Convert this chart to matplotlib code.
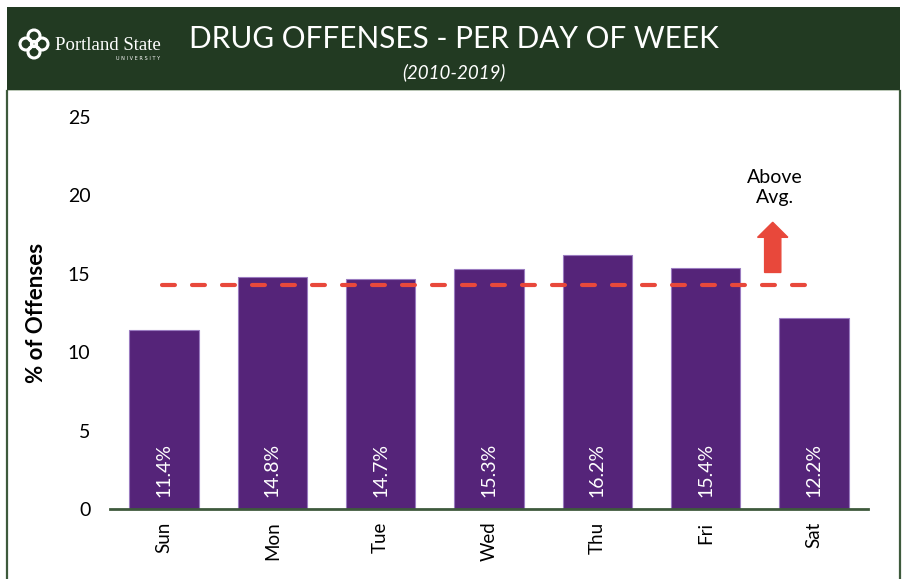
import matplotlib
matplotlib.use("Agg")
import matplotlib.pyplot as plt
from matplotlib.patches import Rectangle, FancyArrow, Circle
import numpy as np

plt.rcParams['font.family'] = ['Lato', 'DejaVu Sans']
plt.rcParams['lines.scale_dashes'] = False

days = ["Sun", "Mon", "Tue", "Wed", "Thu", "Fri", "Sat"]
pct = [11.4, 14.8, 14.7, 15.3, 16.2, 15.4, 12.2]
avg_level = 100 / 7
y_ticks = [0, 5, 10, 15, 20, 25]

title = "DRUG OFFENSES - PER DAY OF WEEK"
subtitle = "(2010-2019)"

W, H = 904, 579
fig = plt.figure(figsize=(W / 100, H / 100), dpi=100)
fig.patch.set_facecolor("white")

def fx(px):
    return px / W

def fy(py):
    return 1 - py / H

green = "#223a22"
frame = "#3e5a3c"

# header band and frame
fig.add_artist(Rectangle((fx(7), fy(90)), fx(900) - fx(7), fy(7) - fy(90),
                         transform=fig.transFigure, facecolor=green, edgecolor="none", zorder=0))
fig.add_artist(Rectangle((fx(7), fy(91)), fx(900) - fx(7), 1.2 / H,
                         transform=fig.transFigure, facecolor="#b9c6b5", edgecolor="none", zorder=1))
for x in (7, 900):
    fig.add_artist(plt.Line2D([fx(x), fx(x)], [fy(91), 0], transform=fig.transFigure,
                              color=frame, lw=1.6, zorder=1))

# logo mark: four interlocking loops (drawn in inches so they stay round)
cx, cy = 34, 44
for dx, dy in [(0, -8), (0, 8), (-8, 0), (8, 0)]:
    fig.add_artist(Circle(((cx + dx) / 100, (H - cy - dy) / 100), 6.0 / 100,
                          transform=fig.dpi_scale_trans,
                          facecolor="none", edgecolor="white", lw=2.2, zorder=2))
fig.add_artist(Circle((cx / 100, (H - cy) / 100), 3.0 / 100, transform=fig.dpi_scale_trans,
                      facecolor="none", edgecolor="white", lw=1.6, zorder=2))
fig.text(fx(55), fy(45), "Portland State", family="Liberation Serif", fontsize=13.5,
         color="white", ha="left", va="center")
fig.text(fx(160), fy(58), "U N I V E R S I T Y", family="DejaVu Sans", fontsize=3.6,
         color="white", ha="right", va="center")

fig.text(fx(454), fy(39), title, fontsize=21.4, color="white", ha="center", va="center")
fig.text(fx(454), fy(72), subtitle, fontsize=13.5, style="italic", color="white",
         ha="center", va="center")

ax = fig.add_axes([fx(110), fy(509), fx(868) - fx(110), fy(117) - fy(509)])
x = np.arange(len(days))
ax.bar(x, pct, width=0.64, color="#552479", edgecolor="#9a7bc0", linewidth=0.8, zorder=2)
ax.set_xlim(-0.5, len(days) - 0.5)
ax.set_ylim(0, 25)
ax.set_yticks(y_ticks)
ax.set_yticklabels([str(t) for t in y_ticks], fontsize=14)
ax.set_xticks(x)
ax.set_xticklabels(days, rotation=90, fontsize=13.5)
ax.tick_params(length=0, pad=9)
ax.tick_params(axis="y", pad=14)
for s in ("top", "right", "left"):
    ax.spines[s].set_visible(False)
ax.spines["bottom"].set_color(frame)
ax.spines["bottom"].set_linewidth(2)
ax.set_ylabel("% of Offenses", fontsize=16, fontweight="bold", labelpad=15)

for xi, v in zip(x, pct):
    ax.text(xi, 0.75, f"{v:.1f}%", rotation=90, color="white", fontsize=14,
            ha="center", va="bottom")

ax.plot([-0.02, 5.92], [avg_level, avg_level], color="#e8483b", lw=3,
        dashes=(9.3, 12.3), dash_capstyle="round", zorder=3)

ax.add_patch(FancyArrow(5.62, avg_level + 0.8, 0, 3.2, width=0.15, head_width=0.28,
                        head_length=0.96, length_includes_head=True,
                        color="#e8483b", zorder=3))
ax.text(5.64, 20.5, "Above\nAvg.", ha="center", va="center", fontsize=14,
        linespacing=1.2, color="black")

fig.savefig("out.png", dpi=100)
